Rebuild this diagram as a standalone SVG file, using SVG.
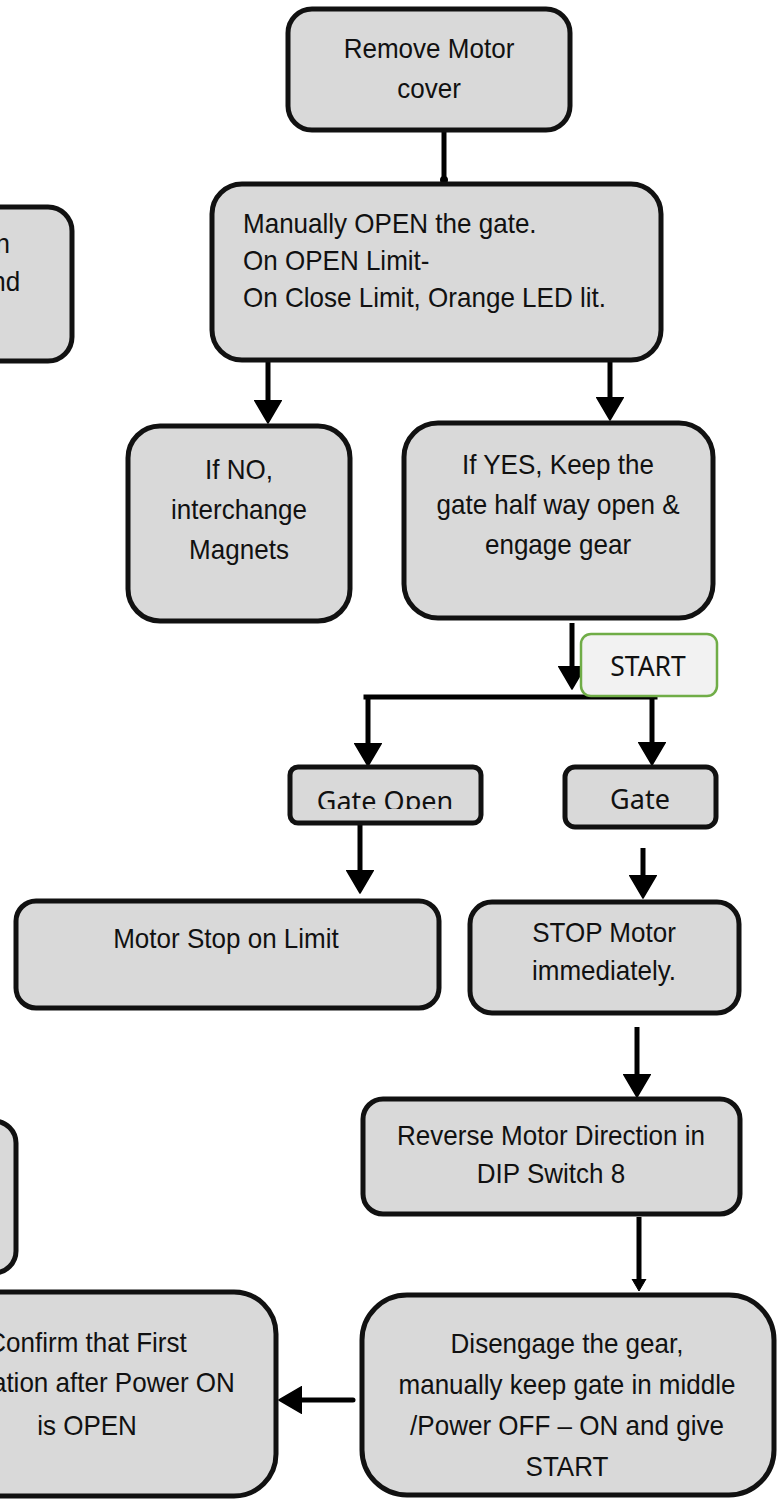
<svg xmlns="http://www.w3.org/2000/svg" width="781" height="1500" viewBox="0 0 781 1500">
<style>
.box{fill:#D9D9D9;stroke:#111;stroke-width:5}
.t{font-family:"Liberation Sans",Arial,sans-serif;font-size:28px;fill:#111;text-anchor:middle}
.ts{font-family:"Liberation Sans",Arial,sans-serif;font-size:28px;fill:#111;text-anchor:start}
.te{font-family:"Liberation Sans",Arial,sans-serif;font-size:28px;fill:#111;text-anchor:end}
.n{font-family:"Noto Sans","Open Sans",sans-serif;fill:#111;text-anchor:middle}
.c{fill:none;stroke:#000;stroke-width:5}
</style>
<defs>
<marker id="ah" markerUnits="userSpaceOnUse" viewBox="0 -14 24 28" refX="0" refY="0" markerWidth="24" markerHeight="28" orient="auto">
<path d="M0,-13.5 L23,0 L0,13.5 z" fill="#000" stroke="#000" stroke-width="1.5" stroke-linejoin="round"/>
</marker>
<marker id="ahs" markerUnits="userSpaceOnUse" viewBox="0 -8 13 16" refX="0" refY="0" markerWidth="13" markerHeight="16" orient="auto">
<path d="M0,-7 L12,0 L0,7 z" fill="#000" stroke="#000" stroke-width="1" stroke-linejoin="round"/>
</marker>
<clipPath id="clipGO"><rect x="290" y="767" width="191" height="42"/></clipPath>
</defs>

<g id="connectors">
<path class="c" d="M444,131 V180"/>
<circle cx="444" cy="180" r="4" fill="#000"/>
<path class="c" d="M268,360 V400" marker-end="url(#ah)"/>
<path class="c" d="M610,360 V397" marker-end="url(#ah)"/>
<path class="c" d="M572,623 V666" marker-end="url(#ah)"/>
<path class="c" d="M366,697 H655" stroke-linecap="square"/>
<path class="c" d="M368,697 V743" marker-end="url(#ah)"/>
<path class="c" d="M652,697 V742" marker-end="url(#ah)"/>
<path class="c" d="M360,818 V870" marker-end="url(#ah)"/>
<path class="c" d="M643,848 V875" marker-end="url(#ah)"/>
<path class="c" d="M637,1027 V1074" marker-end="url(#ah)"/>
<path class="c" d="M639,1217 V1279" marker-end="url(#ahs)"/>
<path class="c" d="M353,1400 H302" stroke-linecap="round" marker-end="url(#ah)"/>
</g>

<g id="n-remove">
<rect class="box" x="288" y="9" width="282" height="121" rx="24" stroke-width="5.5"/>
<g transform="translate(429 0) scale(0.93 1)"><text class="t" x="0" y="58">Remove Motor</text><text class="t" x="0" y="98">cover</text></g>
</g>

<g id="n-manual">
<rect class="box" x="212" y="184" width="449" height="176" rx="30"/>
<g transform="translate(243 0) scale(0.93 1)"><text class="ts" x="0" y="233">Manually OPEN the gate.</text><text class="ts" x="0" y="270">On OPEN Limit-</text><text class="ts" x="0" y="307">On Close Limit, Orange LED lit.</text></g>
</g>

<g id="n-topleft">
<rect class="box" x="-60" y="207" width="132" height="154" rx="24"/>
<g transform="translate(10 0) scale(0.93 1)"><text class="te" x="0" y="253">n</text><text class="te" x="11" y="291">nd</text></g>
</g>

<g id="n-ifno">
<rect class="box" x="128" y="426" width="222" height="195" rx="32" stroke-width="6"/>
<g transform="translate(239 0) scale(0.93 1)"><text class="t" x="0" y="479">If NO,</text><text class="t" x="0" y="519">interchange</text><text class="t" x="0" y="559">Magnets</text></g>
</g>

<g id="n-ifyes">
<rect class="box" x="404" y="423" width="309" height="195" rx="34" stroke-width="4"/>
<g transform="translate(558 0) scale(0.93 1)"><text class="t" x="0" y="474">If YES, Keep the</text><text class="t" x="0" y="514">gate half way open &amp;</text><text class="t" x="0" y="554">engage gear</text></g>
</g>

<g id="n-start">
<rect x="581" y="634" width="136" height="62" rx="10" fill="#F2F2F2" stroke="#70AD47" stroke-width="2.5"/>
<text class="n" x="648" y="676" font-size="26.5">START</text>
</g>

<g id="n-gateopen">
<rect class="box" x="290" y="767" width="191" height="56" rx="8" stroke-width="3.5"/>
<text class="n" x="385" y="811" font-size="27" clip-path="url(#clipGO)">Gate Open</text>
</g>

<g id="n-gate">
<rect class="box" x="565" y="767" width="151" height="60" rx="10" stroke-width="3.5"/>
<text class="n" x="640" y="809" font-size="27">Gate</text>
</g>

<g id="n-motorstop">
<rect class="box" x="16" y="901" width="423" height="107" rx="20" stroke-width="7"/>
<g transform="translate(226 0) scale(0.93 1)"><text class="t" x="0" y="948">Motor Stop on Limit</text></g>
</g>

<g id="n-stop">
<rect class="box" x="470" y="902" width="269" height="111" rx="22"/>
<g transform="translate(604 0) scale(0.93 1)"><text class="t" x="0" y="942">STOP Motor</text><text class="t" x="0" y="980">immediately.</text></g>
</g>

<g id="n-reverse">
<rect class="box" x="363" y="1099" width="377" height="115" rx="20" stroke-width="4.5"/>
<g transform="translate(551 0) scale(0.93 1)"><text class="t" x="0" y="1145">Reverse Motor Direction in</text><text class="t" x="0" y="1183">DIP Switch 8</text></g>
</g>

<g id="n-disengage">
<rect class="box" x="362" y="1295" width="412" height="200" rx="45"/>
<g transform="translate(567 0) scale(0.93 1)"><text class="t" x="0" y="1353">Disengage the gear,</text><text class="t" x="0" y="1394">manually keep gate in middle</text><text class="t" x="0" y="1435">/Power OFF – ON and give</text><text class="t" x="0" y="1476">START</text></g>
</g>

<g id="n-confirm">
<rect class="box" x="-100" y="1292" width="376" height="204" rx="42"/>
<g transform="translate(87 0) scale(0.93 1)"><text class="t" x="0" y="1352">Confirm that First</text><text class="te" x="159" y="1392">ation after Power ON</text><text class="t" x="0" y="1435">is OPEN</text></g>
</g>

<g id="n-bottomleft">
<rect class="box" x="-80" y="1121" width="96" height="152" rx="22"/>
</g>
</svg>
